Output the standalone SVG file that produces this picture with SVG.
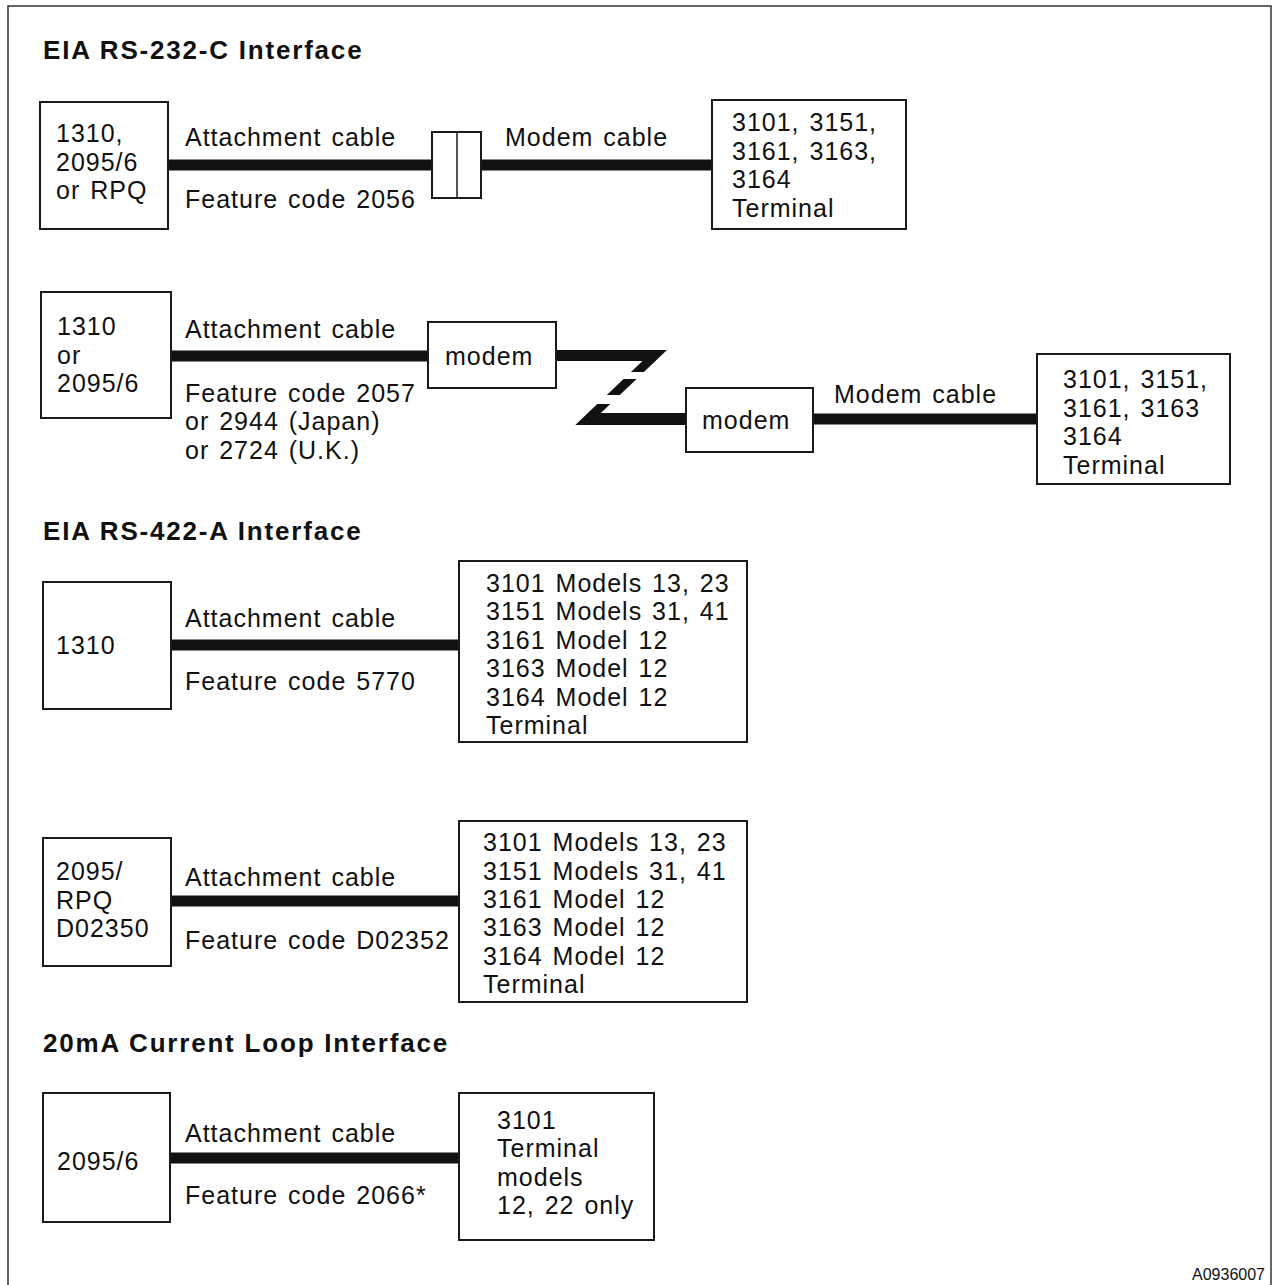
<svg xmlns="http://www.w3.org/2000/svg" width="1275" height="1285" viewBox="0 0 1275 1285">
<style>
  text { font-family: "Liberation Sans", Arial, sans-serif; fill: #111; }
  .t { font-size: 25px; letter-spacing: 1px; word-spacing: 2px; }
  .h { font-size: 26px; font-weight: bold; letter-spacing: 1.8px; }
  .box { fill: #fff; stroke: #1a1a1a; stroke-width: 2; }
  .cable { stroke: #111; stroke-width: 11; fill: none; }
  .frame { fill: none; stroke: #333; stroke-width: 1.5; }
  .z { fill: #111; stroke: none; }
  .id { font-size: 16px; }
</style>
<rect x="0" y="0" width="1275" height="1285" fill="#fff"/>
<rect class="frame" x="8" y="6" width="1263" height="1290"/>

<text class="h" x="43" y="59">EIA RS-232-C Interface</text>
<text class="h" x="43" y="540">EIA RS-422-A Interface</text>
<text class="h" x="43" y="1052">20mA Current Loop Interface</text>

<g id="connectors">
  <line class="cable" x1="168" y1="165" x2="432" y2="165"/>
  <line class="cable" x1="481" y1="165" x2="712" y2="165"/>
  <line class="cable" x1="171" y1="356" x2="428" y2="356"/>
  <polygon class="z" points="556,350 667,350 643.9,372 630.9,372 642.5,361 556,361"/>
  <polygon class="z" points="636.6,379 619.8,395 606.8,395 623.6,379"/>
  <polygon class="z" points="610.3,404 600.9,413 686,413 686,425 575.3,425 597.3,404"/>
  <line class="cable" x1="813" y1="419" x2="1037" y2="419"/>
  <line class="cable" x1="171" y1="645" x2="459" y2="645"/>
  <line class="cable" x1="171" y1="901" x2="459" y2="901"/>
  <line class="cable" x1="170" y1="1158" x2="459" y2="1158"/>
</g>

<g id="cable-labels">
  <text class="t" x="185" y="146">Attachment cable</text>
  <text class="t" x="185" y="208">Feature code 2056</text>
  <text class="t" x="505" y="146">Modem cable</text>
  <text class="t" x="185" y="338">Attachment cable</text>
  <text class="t" x="185" y="402">Feature code 2057</text>
  <text class="t" x="185" y="430">or 2944 (Japan)</text>
  <text class="t" x="185" y="459">or 2724 (U.K.)</text>
  <text class="t" x="834" y="403">Modem cable</text>
  <text class="t" x="185" y="627">Attachment cable</text>
  <text class="t" x="185" y="690">Feature code 5770</text>
  <text class="t" x="185" y="886">Attachment cable</text>
  <text class="t" x="185" y="949">Feature code D02352</text>
  <text class="t" x="185" y="1142">Attachment cable</text>
  <text class="t" x="185" y="1204">Feature code 2066*</text>
</g>

<g id="host1">
  <rect class="box" x="40" y="102" width="128" height="127"/>
  <text class="t" x="56" y="142">1310,</text>
  <text class="t" x="56" y="171">2095/6</text>
  <text class="t" x="56" y="199">or RPQ</text>
</g>
<g id="connector1">
  <rect class="box" x="432" y="132" width="49" height="66"/>
  <line x1="457" y1="132" x2="457" y2="198" stroke="#1a1a1a" stroke-width="1.5"/>
</g>
<g id="terminal1">
  <rect class="box" x="712" y="100" width="194" height="129"/>
  <text class="t" x="732" y="131">3101, 3151,</text>
  <text class="t" x="732" y="160">3161, 3163,</text>
  <text class="t" x="732" y="188">3164</text>
  <text class="t" x="732" y="217">Terminal</text>
</g>

<g id="host2">
  <rect class="box" x="41" y="292" width="130" height="126"/>
  <text class="t" x="57" y="335">1310</text>
  <text class="t" x="57" y="364">or</text>
  <text class="t" x="57" y="392">2095/6</text>
</g>
<g id="modem1">
  <rect class="box" x="428" y="322" width="128" height="66"/>
  <text class="t" x="445" y="365">modem</text>
</g>
<g id="modem2">
  <rect class="box" x="686" y="388" width="127" height="64"/>
  <text class="t" x="702" y="429">modem</text>
</g>
<g id="terminal2">
  <rect class="box" x="1037" y="354" width="193" height="130"/>
  <text class="t" x="1063" y="388">3101, 3151,</text>
  <text class="t" x="1063" y="417">3161, 3163</text>
  <text class="t" x="1063" y="445">3164</text>
  <text class="t" x="1063" y="474">Terminal</text>
</g>

<g id="host3">
  <rect class="box" x="43" y="582" width="128" height="127"/>
  <text class="t" x="56" y="654">1310</text>
</g>
<g id="terminal3">
  <rect class="box" x="459" y="561" width="288" height="181"/>
  <text class="t" x="486" y="592">3101 Models 13, 23</text>
  <text class="t" x="486" y="620">3151 Models 31, 41</text>
  <text class="t" x="486" y="649">3161 Model 12</text>
  <text class="t" x="486" y="677">3163 Model 12</text>
  <text class="t" x="486" y="706">3164 Model 12</text>
  <text class="t" x="486" y="734">Terminal</text>
</g>

<g id="host4">
  <rect class="box" x="43" y="838" width="128" height="128"/>
  <text class="t" x="56" y="880">2095/</text>
  <text class="t" x="56" y="909">RPQ</text>
  <text class="t" x="56" y="937">D02350</text>
</g>
<g id="terminal4">
  <rect class="box" x="459" y="821" width="288" height="181"/>
  <text class="t" x="483" y="851">3101 Models 13, 23</text>
  <text class="t" x="483" y="880">3151 Models 31, 41</text>
  <text class="t" x="483" y="908">3161 Model 12</text>
  <text class="t" x="483" y="936">3163 Model 12</text>
  <text class="t" x="483" y="965">3164 Model 12</text>
  <text class="t" x="483" y="993">Terminal</text>
</g>

<g id="host5">
  <rect class="box" x="43" y="1093" width="127" height="129"/>
  <text class="t" x="57" y="1170">2095/6</text>
</g>
<g id="terminal5">
  <rect class="box" x="459" y="1093" width="195" height="147"/>
  <text class="t" x="497" y="1129">3101</text>
  <text class="t" x="497" y="1157">Terminal</text>
  <text class="t" x="497" y="1186">models</text>
  <text class="t" x="497" y="1214">12, 22 only</text>
</g>

<text class="id" x="1265" y="1280" text-anchor="end">A0936007</text>
</svg>
